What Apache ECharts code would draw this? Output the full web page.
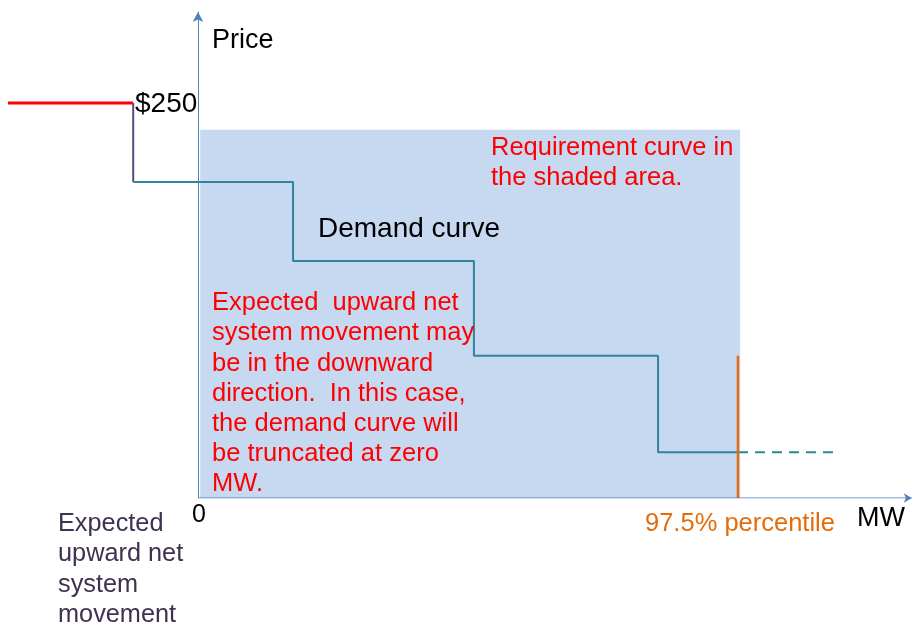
<!DOCTYPE html>
<html>
<head>
<meta charset="utf-8">
<script src="https://cdn.jsdelivr.net/npm/echarts@6/dist/echarts.min.js"></script>
<style>
  html, body { margin: 0; padding: 0; background: #fff; }
  #main { width: 914px; height: 629px; }
</style>
</head>
<body>
<div id="main"></div>
<script>
// x in MW units (0 at the price axis, 100 = 97.5% percentile), y in $ units
const capLine = [[-35.2, 250], [-12, 250]]
const capDrop = [[-12, 250], [-12, 200]]
const demandSteps = [[-12, 200], [17.6, 150], [51.1, 90], [85.2, 29], [100, 29]]
const demandTail = [[100, 29], [117.6, 29]]
const percentileLine = [[100, 0], [100, 90]]
const shadeX = [0.4, 100.4]
const shadeY = [0, 233]
const mwAxis = [[0, 0], [132.2, 0]]

const font = '"Liberation Sans", Arial, sans-serif'

let myChart = echarts.init(document.getElementById('main'))

function txt (text, x, y, size, color, lh) {
  return {
    type: 'text',
    z: 100,
    style: {
      text: text,
      x: x,
      y: y,
      font: size + 'px ' + font,
      fill: color,
      lineHeight: lh || size,
      verticalAlign: 'top'
    }
  }
}

let option = {
  animation: false,
  grid: { left: 0, right: 0, top: 12, bottom: 131 },
  xAxis: {
    type: 'value',
    min: -36.67,
    max: 132.6,
    axisLine: { show: false },
    axisTick: { show: false },
    axisLabel: { show: false },
    splitLine: { show: false }
  },
  yAxis: {
    type: 'value',
    min: 0,
    max: 307.6,
    axisLine: {
      show: true,
      onZero: true,
      lineStyle: { color: '#4f81bd', width: 1 },
      symbol: ['none', 'arrow'],
      symbolSize: [8, 10]
    },
    axisTick: { show: false },
    axisLabel: { show: false },
    splitLine: { show: false }
  },
  series: [
    {
      name: 'shade',
      type: 'line',
      data: [],
      silent: true,
      markArea: {
        silent: true,
        itemStyle: { color: '#c6d9f0' },
        data: [[{ coord: [shadeX[0], shadeY[0]] }, { coord: [shadeX[1], shadeY[1]] }]]
      }
    },
    {
      name: 'mwAxis',
      type: 'line',
      z: 6,
      symbol: function (v, p) { return p.dataIndex === mwAxis.length - 1 ? 'arrow' : 'none' },
      symbolSize: [7, 8],
      symbolRotate: -90,
      symbolOffset: [0, 0],
      itemStyle: { color: '#4f81bd' },
      lineStyle: { color: '#4f81bd', width: 1 },
      data: mwAxis
    },
    {
      name: 'cap',
      type: 'line',
      symbol: 'none',
      lineStyle: { color: '#ff0000', width: 3 },
      data: capLine
    },
    {
      name: 'capDrop',
      type: 'line',
      symbol: 'none',
      lineStyle: { color: '#5f497a', width: 2 },
      data: capDrop
    },
    {
      name: 'demand',
      type: 'line',
      step: 'end',
      symbol: 'none',
      lineStyle: { color: '#31849b', width: 2 },
      data: demandSteps
    },
    {
      name: 'tail',
      type: 'line',
      symbol: 'none',
      lineStyle: { color: '#31849b', width: 2, type: [10, 7] },
      data: demandTail
    },
    {
      name: 'percentile',
      type: 'line',
      symbol: 'none',
      z: 5,
      lineStyle: { color: '#e46c0a', width: 2.5 },
      data: percentileLine
    }
  ],
  graphic: [
    txt('Price', 212, 27, 27, '#000'),
    txt('$250', 135, 90, 28, '#000'),
    txt('Demand curve', 318, 215, 28, '#000'),
    txt('Requirement curve in\nthe shaded area.', 491, 133, 25.5, '#ff0000', 30),
    txt('Expected  upward net\nsystem movement may\nbe in the downward\ndirection.  In this case,\nthe demand curve will\nbe truncated at zero\nMW.', 212, 288, 25.5, '#ff0000', 30.2),
    txt('0', 192, 503, 25, '#000'),
    txt('97.5% percentile', 645, 511, 25.5, '#e46c0a'),
    txt('MW', 857, 505, 27, '#000'),
    txt('Expected\nupward net\nsystem\nmovement', 58, 509, 25.3, '#3f3151', 30.3)
  ]
}

myChart.setOption(option)
</script>
</body>
</html>
